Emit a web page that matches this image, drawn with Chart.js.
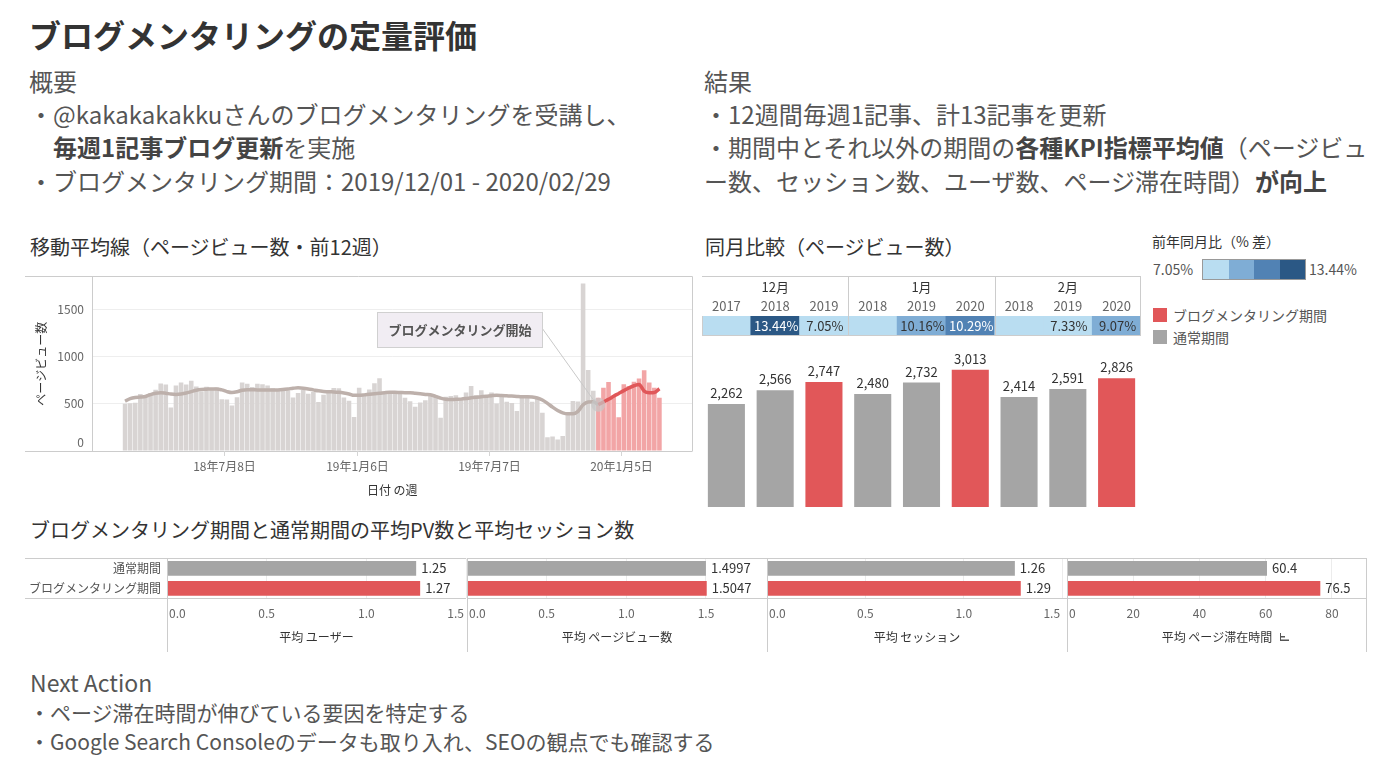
<!DOCTYPE html>
<html lang="ja">
<head>
<meta charset="utf-8">
<script src="https://cdn.jsdelivr.net/npm/chart.js@4.4.1/dist/chart.umd.min.js"></script>
<style>
  body { margin: 0; width: 1394px; height: 769px; background: #fff; position: relative; overflow: hidden;
         font-family: "Noto Sans CJK JP", "Noto Sans", sans-serif; }
  .t { position: absolute; white-space: nowrap; color: #555; }
  .t b { color: #444; }
  .h1 { font-size: 32px; line-height: 38px; font-weight: bold; color: #333; }
  .body { font-size: 24px; line-height: 30px; }
  .sec { font-size: 20px; line-height: 24px; color: #333; }
  .small { font-size: 14px; line-height: 18px; }
  .foot { font-size: 21px; line-height: 26px; }
  .cv { position: absolute; }
  .sq { position: absolute; width: 14px; height: 14px; }
</style>
</head>
<body>

<div class="t h1" style="left:29px;top:15px;">ブログメンタリングの定量評価</div>

<div class="t body" style="left:29px;top:66px;">概要</div>
<div class="t body" style="left:29px;top:99px;">・@kakakakakkuさんのブログメンタリングを受講し、</div>
<div class="t body" style="left:53px;top:132px;"><b>毎週1記事ブログ更新</b>を実施</div>
<div class="t body" style="left:29px;top:166px;">・ブログメンタリング期間：2019/12/01 - 2020/02/29</div>

<div class="t body" style="left:704px;top:66px;">結果</div>
<div class="t body" style="left:704px;top:99px;">・12週間毎週1記事、計13記事を更新</div>
<div class="t body" style="left:704px;top:132px;">・期間中とそれ以外の期間の<b>各種KPI指標平均値</b>（ページビュ</div>
<div class="t body" style="left:704px;top:166px;">ー数、セッション数、ユーザ数、ページ滞在時間）<b>が向上</b></div>

<div class="t sec" style="left:30px;top:235px;">移動平均線（ページビュー数・前12週）</div>
<div class="t sec" style="left:705px;top:235px;">同月比較（ページビュー数）</div>

<div class="t small" style="left:1152px;top:232px;color:#333;">前年同月比（% 差）</div>
<div class="t small" style="left:1153px;top:260px;">7.05%</div>
<div id="scaleBox" style="position:absolute;left:1202px;top:259px;width:102px;height:19px;border:1px solid #999;display:flex;"></div>
<div class="t small" style="left:1309px;top:260px;">13.44%</div>

<div class="sq" style="left:1153px;top:308px;background:#e15759;"></div>
<div class="t small" style="left:1173px;top:306px;">ブログメンタリング期間</div>
<div class="sq" style="left:1153px;top:330px;background:#a5a5a5;"></div>
<div class="t small" style="left:1173px;top:328px;">通常期間</div>

<canvas class="cv" id="trend" width="668" height="230" style="left:25px;top:270px;"></canvas>
<canvas class="cv" id="heat" width="443" height="70" style="left:700px;top:270px;"></canvas>
<canvas class="cv" id="monthly" width="443" height="170" style="left:700px;top:340px;"></canvas>

<div class="t sec" style="left:30px;top:518px;">ブログメンタリング期間と通常期間の平均PV数と平均セッション数</div>
<canvas class="cv" id="p1" width="442" height="100" style="left:25px;top:555px;"></canvas>
<canvas class="cv" id="p2" width="300" height="100" style="left:467px;top:555px;"></canvas>
<canvas class="cv" id="p3" width="300" height="100" style="left:767px;top:555px;"></canvas>
<canvas class="cv" id="p4" width="300" height="100" style="left:1067px;top:555px;"></canvas>

<div class="t" style="left:30px;top:668px;font-size:23px;line-height:28px;">Next Action</div>
<div class="t foot" style="left:29px;top:699px;">・ページ滞在時間が伸びている要因を特定する</div>
<div class="t foot" style="left:29px;top:728px;">・Google Search Consoleのデータも取り入れ、SEOの観点でも確認する</div>

<script>
// 週別ページビュー (2018/02/18 の週から 2020/02/23 の週まで)
const weekStart = '2018-02-18';
const mentoringStart = '2019-12-01';
const weeklyPageViews = [
  500, 505, 512, 605, 578, 615, 650, 715, 705, 462,
  695, 725, 705, 745, 685, 632, 680, 668, 672, 548,
  546, 482, 571, 725, 714, 678, 712, 708, 695, 665,
  652, 642, 645, 566, 615, 648, 608, 625, 520, 596,
  620, 668, 665, 568, 533, 360, 670, 590, 652, 718,
  772, 617, 615, 610, 605, 564, 528, 470, 514, 539,
  582, 582, 352, 574, 582, 592, 546, 620, 688, 592,
  645, 592, 620, 503, 582, 521, 510, 425, 574, 592,
  521, 565, 405, 145, 155, 122, 160, 395, 530, 525,
  1777, 860, 640, 564, 671, 732, 582, 357, 707, 689,
  735, 768, 857, 725, 671, 564
];
// 移動平均 (前12週)
const movingAverage12w = [
  528, 555, 568, 572, 578, 598, 612, 618, 612, 604,
  600, 605, 615, 630, 645, 652, 655, 658, 658, 648,
  630, 620, 628, 645, 650, 650, 648, 648, 648, 646,
  648, 652, 658, 665, 670, 666, 658, 648, 638, 632,
  628, 626, 622, 615, 605, 590, 590, 595, 602, 608,
  612, 618, 622, 622, 620, 618, 618, 612, 606, 600,
  596, 580, 560, 548, 546, 548, 550, 556, 564, 570,
  575, 580, 586, 590, 588, 585, 582, 578, 575, 575,
  572, 562, 540, 505, 465, 430, 405, 395, 395, 420,
  490, 520, 522, 490, 520, 548, 580, 610, 640, 668,
  692, 705, 635, 618, 620, 660
];
const weekTickDates = ['2018-07-08', '2019-01-06', '2019-07-07', '2020-01-05'];
const pvAxisTicks = [0, 500, 1000, 1500];

// 同月比較
const compareMonths = ['12月', '1月', '2月'];
const compareYears = [['2017', '2018', '2019'], ['2018', '2019', '2020'], ['2018', '2019', '2020']];
const monthlyPageViews = [2262, 2566, 2747, 2480, 2732, 3013, 2414, 2591, 2826];
const yoyDiffPct = [null, 13.44, 7.05, null, 10.16, 10.29, null, 7.33, 9.07];

// 平均値の比較
const periodRows = ['通常期間', 'ブログメンタリング期間'];
const avgUsers = [1.25, 1.27];
const avgPageViews = [1.4997, 1.5047];
const avgSessions = [1.26, 1.29];
const avgTimeOnPage = [60.4, 76.5];

const GRAY = '#a5a5a5';
const RED = '#e15759';
const FONT = '"Noto Sans CJK JP", "Noto Sans", sans-serif';
const binColors = ['#b9ddf1', '#7fadd5', '#5182b4', '#2b5885'];

Chart.defaults.font.family = FONT;
Chart.defaults.animation = false;
Chart.defaults.plugins.legend.display = false;
Chart.defaults.plugins.tooltip.enabled = false;

function hline(ctx, x0, x1, y) { ctx.beginPath(); ctx.moveTo(x0, y); ctx.lineTo(x1, y); ctx.stroke(); }
function vline(ctx, x, y0, y1) { ctx.beginPath(); ctx.moveTo(x, y0); ctx.lineTo(x, y1); ctx.stroke(); }

// ---------- 移動平均線 ----------
// the axis runs a few empty weeks before and after the data, like the original
const padBefore = 6;
const axisWeeks = 118;
const weekIdx = d => Math.round((Date.parse(d) - Date.parse(weekStart)) / 6048e5);
const startIdx = weekIdx(mentoringStart);
const weekLabels = Array.from({ length: axisWeeks }, (_, k) =>
  new Date(Date.parse(weekStart) + (k - padBefore) * 6048e5).toISOString().slice(0, 10));
const pick = (arr, test) => weekLabels.map((_, k) => {
  const i = k - padBefore;
  return (i >= 0 && i < arr.length && test(i)) ? arr[i] : null;
});
const grayBars = pick(weeklyPageViews, i => i < startIdx);
const redBars = pick(weeklyPageViews, i => i >= startIdx);
const grayLine = pick(movingAverage12w, i => i <= startIdx);
const redLine = pick(movingAverage12w, i => i >= startIdx);

function weekLabel(d) {
  const [y, m, day] = d.split('-');
  return y.slice(2) + '年' + Number(m) + '月' + Number(day) + '日';
}

const trendDecor = {
  id: 'trendDecor',
  afterDatasetsDraw(chart) {
    const { ctx, scales: { x, y } } = chart;
    const px = x.getPixelForValue(startIdx + padBefore), py = y.getPixelForValue(movingAverage12w[startIdx]);
    ctx.save();
    ctx.strokeStyle = '#c9c9c9'; ctx.lineWidth = 1;
    ctx.beginPath(); ctx.moveTo(517, 58); ctx.lineTo(px - 5, py - 5); ctx.stroke();
    ctx.fillStyle = 'rgba(200,200,200,0.7)';
    ctx.beginPath(); ctx.arc(px, py, 7, 0, Math.PI * 2); ctx.fill();
    ctx.fillStyle = '#f1edf3'; ctx.fillRect(352.5, 42.5, 165, 35);
    ctx.strokeStyle = '#d0d0d0'; ctx.strokeRect(352.5, 42.5, 165, 35);
    ctx.fillStyle = '#555'; ctx.font = 'bold 13px ' + FONT;
    ctx.textAlign = 'center'; ctx.textBaseline = 'middle';
    ctx.fillText('ブログメンタリング開始', 435, 60);
    ctx.restore();
  },
  afterDraw(chart) {
    const { ctx, chartArea: a, scales: { x, y } } = chart;
    const half = (x.getPixelForValue(1) - x.getPixelForValue(0)) / 2;
    ctx.save();
    ctx.strokeStyle = '#cccccc'; ctx.lineWidth = 1;
    hline(ctx, 0, a.right, 6.5);
    hline(ctx, 0, a.right, a.bottom + 0.5);
    vline(ctx, a.right, 6.5, a.bottom);
    vline(ctx, a.left + 0.5, 6.5, a.bottom);
    ctx.font = '12px ' + FONT; ctx.fillStyle = '#666'; ctx.textBaseline = 'middle';
    ctx.textAlign = 'right';
    pvAxisTicks.forEach(v => {
      ctx.fillText(String(v), a.left - 8, y.getPixelForValue(v) - (v === 0 ? 9 : 0));
    });
    ctx.textAlign = 'center';
    weekTickDates.forEach(d => {
      const px = Math.round(x.getPixelForValue(weekIdx(d) + padBefore) - half) + 0.5;
      ctx.strokeStyle = '#d5d5d5';
      vline(ctx, px, a.bottom, a.bottom + 5);
      ctx.fillText(weekLabel(d), px, a.bottom + 15);
    });
    ctx.fillStyle = '#333';
    ctx.fillText('日付 の週', (a.left + a.right) / 2, a.bottom + 39);
    ctx.translate(16.5, (a.top + a.bottom) / 2);
    ctx.rotate(-Math.PI / 2);
    ctx.fillText('ページビュー数', 0, 0);
    ctx.restore();
  }
};

new Chart(document.getElementById('trend'), {
  type: 'bar',
  data: {
    labels: weekLabels,
    datasets: [
      { type: 'line', data: grayLine, borderColor: '#bdb0ab', borderWidth: 3.5, pointRadius: 0,
        tension: 0.4, cubicInterpolationMode: 'monotone', order: 1 },
      { type: 'line', data: redLine, borderColor: '#e05759', borderWidth: 3.5, pointRadius: 0,
        tension: 0.4, cubicInterpolationMode: 'monotone', order: 0 },
      { data: grayBars, backgroundColor: '#d8d4d3', grouped: false, barPercentage: 0.9, categoryPercentage: 1, order: 3 },
      { data: redBars, backgroundColor: '#f2a5a6', grouped: false, barPercentage: 0.9, categoryPercentage: 1, order: 3 }
    ]
  },
  options: {
    responsive: false,
    devicePixelRatio: 1,
    layout: { padding: { top: 6.5, right: 0.5 } },
    scales: {
      x: { type: 'category', offset: true, grid: { display: false }, border: { display: false },
           ticks: { display: false }, afterFit: s => { s.height = 49; } },
      y: { min: 0, max: 1850, grid: { color: '#eeeeee', drawTicks: false }, border: { display: false },
           ticks: { display: false },
           afterBuildTicks: s => { s.ticks = pvAxisTicks.map(v => ({ value: v })); },
           afterFit: s => { s.width = 67; } }
    }
  },
  plugins: [trendDecor]
});

// ---------- 同月比較 ----------
const compareLabels = compareYears.flat();
const yoyKnown = yoyDiffPct.filter(v => v !== null);
const yoyMin = Math.min(...yoyKnown), yoyMax = Math.max(...yoyKnown);
function binOf(v) {
  if (v === null) return 0;
  return Math.min(3, Math.floor((v - yoyMin) / (yoyMax - yoyMin) * 4));
}
binColors.forEach(c => {
  const cell = document.createElement('div');
  cell.style.flex = '1'; cell.style.background = c;
  document.getElementById('scaleBox').appendChild(cell);
});

const heatDecor = {
  id: 'heatDecor',
  afterDraw(chart) {
    const { ctx, chartArea: a, scales: { x } } = chart;
    ctx.save();
    ctx.strokeStyle = '#cccccc'; ctx.lineWidth = 1;
    hline(ctx, a.left, a.right, 6.5);
    hline(ctx, a.left, a.right, a.bottom - 0.5);
    vline(ctx, a.left + 0.5, a.top, a.bottom);
    vline(ctx, a.right - 0.5, 6.5, a.bottom);
    ctx.textAlign = 'center'; ctx.textBaseline = 'middle'; ctx.font = '13px ' + FONT;
    let k = 0;
    compareMonths.forEach((m, g) => {
      const n = compareYears[g].length;
      const p0 = x.getPixelForValue(k), p1 = x.getPixelForValue(k + n - 1);
      ctx.fillStyle = '#333';
      ctx.fillText(m, (p0 + p1) / 2, 17);
      compareYears[g].forEach((yr, j) => {
        ctx.fillStyle = '#666';
        ctx.fillText(yr, x.getPixelForValue(k + j), 36);
      });
      k += n;
      if (g < compareMonths.length - 1) {
        const sep = Math.round((x.getPixelForValue(k - 1) + x.getPixelForValue(k)) / 2) + 0.5;
        vline(ctx, sep, 6.5, a.bottom);
      }
    });
    yoyDiffPct.forEach((v, i) => {
      if (v === null) return;
      ctx.fillStyle = binOf(v) >= 2 ? '#fff' : '#333';
      ctx.fillText(v.toFixed(2) + '%', x.getPixelForValue(i) + 1, (a.top + a.bottom) / 2);
    });
    ctx.restore();
  }
};

new Chart(document.getElementById('heat'), {
  type: 'bar',
  data: {
    labels: compareLabels,
    datasets: [{ data: compareLabels.map(() => 1), backgroundColor: yoyDiffPct.map(v => binColors[binOf(v)]),
                 barPercentage: 1, categoryPercentage: 1 }]
  },
  options: {
    responsive: false,
    devicePixelRatio: 1,
    layout: { padding: { left: 2, right: 2, bottom: 4 } },
    scales: {
      x: { position: 'top', grid: { display: false }, border: { display: false }, ticks: { display: false },
           afterFit: s => { s.height = 46; } },
      y: { display: false, min: 0, max: 1 }
    }
  },
  plugins: [heatDecor]
});

const monthInPeriod = compareMonths.flatMap((m, g) => compareYears[g].map(yr => {
  const mm = String(parseInt(m, 10)).padStart(2, '0');
  return (yr + '-' + mm + '-01') >= mentoringStart;
}));

const barLabels = {
  id: 'barLabels',
  afterDatasetsDraw(chart) {
    const { ctx } = chart;
    ctx.save();
    ctx.font = '13px ' + FONT; ctx.fillStyle = '#333';
    ctx.textAlign = 'center'; ctx.textBaseline = 'middle';
    chart.getDatasetMeta(0).data.forEach((bar, i) => {
      ctx.fillText(monthlyPageViews[i].toLocaleString('en-US'), bar.x, bar.y - 11);
    });
    ctx.restore();
  }
};

new Chart(document.getElementById('monthly'), {
  type: 'bar',
  data: {
    labels: compareLabels,
    datasets: [{ data: monthlyPageViews, backgroundColor: monthInPeriod.map(p => p ? RED : GRAY),
                 barPercentage: 1, categoryPercentage: 0.76 }]
  },
  options: {
    responsive: false,
    devicePixelRatio: 1,
    layout: { padding: { left: 2, right: 2, top: 7.6, bottom: 3 } },
    scales: {
      x: { display: false },
      y: { display: false, min: 0, max: 3500 }
    }
  },
  plugins: [barLabels]
});

// ---------- 平均値パネル ----------
function panelDecor(title, decimals, tickDecimals, first, last, sortIcon) {
  return {
    id: 'panelDecor',
    afterDraw(chart) {
      const { ctx, chartArea: a, scales: { x, y } } = chart;
      const H = chart.height;
      ctx.save();
      ctx.strokeStyle = '#cccccc'; ctx.lineWidth = 1;
      const x0 = first ? 0 : a.left;
      hline(ctx, x0, a.right, Math.round(a.top) + 0.5);
      hline(ctx, x0, a.right, Math.round(a.bottom) + 0.5);
      vline(ctx, Math.round(a.left) + 0.5, Math.round(a.top), H - 3);
      if (last) vline(ctx, a.right - 0.5, Math.round(a.top), H - 3);

      ctx.textBaseline = 'middle';
      if (first) {
        ctx.font = '12px ' + FONT; ctx.fillStyle = '#555'; ctx.textAlign = 'right';
        periodRows.forEach((r, k) => ctx.fillText(r, a.left - 6, y.getPixelForValue(k)));
      }

      ctx.font = '12px ' + FONT; ctx.fillStyle = '#666';
      x.ticks.forEach((t, k) => {
        const px = x.getPixelForValue(t.value);
        let tx = px;
        ctx.textAlign = 'center';
        if (k === 0) { ctx.textAlign = 'left'; tx = px + 2; }
        else if (px > a.right - 12) { ctx.textAlign = 'right'; tx = px - 2; }
        ctx.fillText(t.value.toFixed(tickDecimals), tx, a.bottom + 15);
      });

      ctx.fillStyle = '#333'; ctx.textAlign = 'center';
      const cx = (a.left + a.right) / 2;
      ctx.fillText(title, cx, a.bottom + 39);
      if (sortIcon) {
        const ix = Math.round(cx + ctx.measureText(title).width / 2 + 8), iy = Math.round(a.bottom + 35);
        ctx.fillStyle = '#555';
        ctx.fillRect(ix, iy, 1, 8);
        ctx.fillRect(ix, iy + 3, 5, 1.5);
        ctx.fillRect(ix, iy + 6.5, 9, 1.5);
      }

      ctx.font = '13px ' + FONT; ctx.fillStyle = '#333'; ctx.textAlign = 'left';
      const values = chart.data.datasets[0].data;
      chart.getDatasetMeta(0).data.forEach((bar, k) => {
        ctx.fillText(values[k].toFixed(decimals), bar.x + 5, bar.y);
      });
      ctx.restore();
    }
  };
}

function panelChart(id, values, axisMax, step, decimals, tickDecimals, title, first, last, sortIcon) {
  return new Chart(document.getElementById(id), {
    type: 'bar',
    data: {
      labels: periodRows,
      datasets: [{ data: values, backgroundColor: [GRAY, RED], barPercentage: 1, categoryPercentage: 0.735 }]
    },
    options: {
      indexAxis: 'y',
      responsive: false,
      devicePixelRatio: 1,
      layout: { padding: { top: 3.3, right: first ? 1 : 0 } },
      scales: {
        x: { min: 0, max: axisMax, grid: { color: '#ececec', drawTicks: false }, border: { display: false },
             ticks: { display: false, stepSize: step, includeBounds: false },
             afterFit: s => { s.height = 56.7; } },
        y: { display: first, grid: { display: false }, border: { display: false },
             ticks: { display: false },
             afterFit: s => { if (first) s.width = 142; } }
      }
    },
    plugins: [panelDecor(title, decimals, tickDecimals, first, last, sortIcon)]
  });
}

panelChart('p1', avgUsers, 1.5, 0.5, 2, 1, '平均 ユーザー', true, false, false);
panelChart('p2', avgPageViews, 1.883, 0.5, 4, 1, '平均 ページビュー数', false, false, false);
panelChart('p3', avgSessions, 1.525, 0.5, 2, 1, '平均 セッション', false, false, false);
panelChart('p4', avgTimeOnPage, 90.6, 20, 1, 0, '平均 ページ滞在時間', false, true, true);
</script>
</body>
</html>
